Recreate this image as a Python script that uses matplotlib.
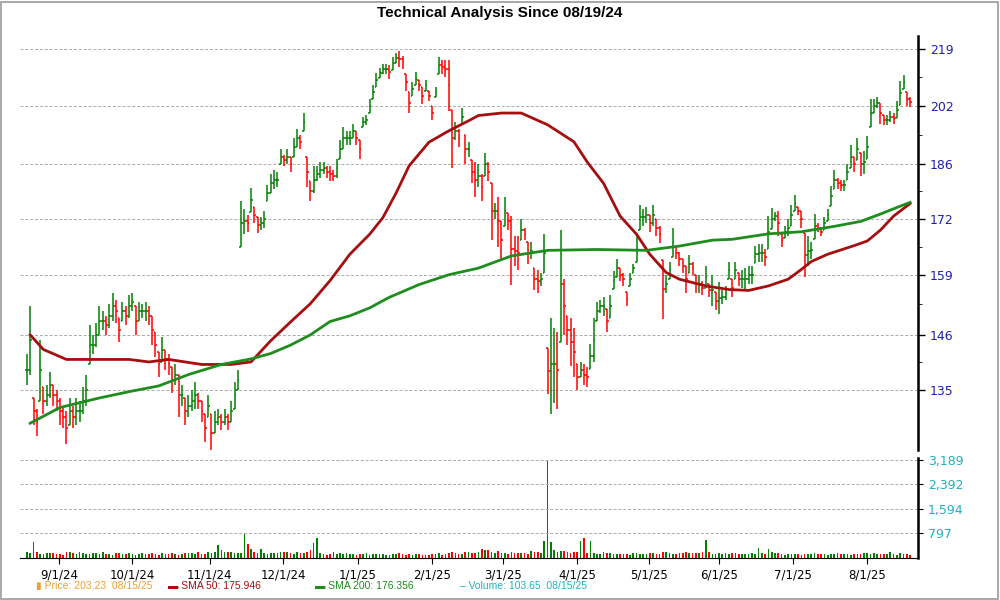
import numpy as np
import matplotlib
matplotlib.use("Agg")
import matplotlib.pyplot as plt
from matplotlib.patches import Rectangle

# daily closes 08/19/24 .. 08/15/25
closes = [
    139, 145, 131, 129, 139, 133, 134, 136, 134, 133,
    131, 130, 128, 131, 130, 131, 131, 133, 135, 144,
    144, 146, 149, 149, 148, 150, 152, 151, 147, 151,
    150, 152, 153, 149, 151, 151, 151, 150, 147, 144,
    140, 143, 141, 140, 137, 138, 134, 134, 131, 132,
    133, 134, 133, 131, 128, 132, 127, 129, 130, 129,
    130, 129, 131, 134, 137, 171, 171.5, 171, 176.8, 173,
    170.6, 171, 172, 178.6, 181, 182, 182, 188, 187, 188,
    186, 190.5, 193, 192, 197.6, 184, 179, 182, 183.5, 184.5,
    185, 184, 183.5, 183, 185, 190, 193, 193, 193, 195,
    193, 190, 197.5, 198, 202, 206, 209.6, 211.6, 213, 213,
    212, 214.7, 216.2, 216, 215, 209, 203, 207, 210, 208,
    205, 208, 205, 200, 206, 214, 213.5, 213, 208, 193,
    195, 193, 199, 190, 190, 184, 182, 183, 180, 186,
    184, 174, 174, 171.5, 167, 174, 171.5, 164.8, 164.5, 164,
    169.5, 168.5, 164, 164.5, 158, 157.5, 158, 164, 138.8, 140,
    140, 139, 157, 152, 147, 144.6, 142.5, 137.5, 139, 138,
    137.5, 141.6, 145, 151, 152, 152, 149, 152, 157.9, 160.5,
    159, 158, 153.7, 158, 160.5, 165, 172.5, 172.5, 173, 171,
    173, 170, 168.4, 155.8, 157, 160, 166.5, 164, 162.6, 161,
    158, 161.5, 160.5, 157, 157, 156, 158.6, 155.5, 155.5, 153.2,
    153.8, 154, 155, 160, 156, 160, 158, 158, 158, 159,
    159, 163.7, 164, 164, 163, 168.9, 172.2, 172.7, 171, 167,
    169, 170, 173, 176, 174, 172, 163.6, 164.5, 164.6, 170.3,
    170, 169, 171, 173, 177.9, 182, 181, 180.5, 180.5, 184,
    188, 186, 190, 186, 186.5, 190.5, 200, 202, 203, 200,
    198, 198, 199, 198.5, 201, 205.8, 209, 204, 203.23,
]

# daily high-low range in dollars
spreads = [
    6, 14, 5, 5, 12, 5, 4, 5, 4, 4,
    5, 4, 6, 5, 4, 5, 4, 5, 6, 8,
    4, 5, 6, 4, 4, 5, 6, 5, 5, 4,
    4, 5, 4, 6, 4, 3, 4, 4, 6, 5,
    5, 5, 4, 4, 5, 4, 8, 4, 5, 4,
    4, 5, 3, 4, 5, 4, 7, 4, 3, 3,
    3, 3, 4, 5, 4, 11, 6, 4, 6, 4,
    4, 3, 4, 4, 5, 5, 4, 4, 3, 4,
    4, 5, 5, 4, 5, 8, 5, 7, 4, 4,
    3, 3, 4, 3, 5, 5, 6, 4, 4, 4,
    4, 5, 3, 3, 4, 4, 4, 3, 3, 3,
    4, 4, 3, 5, 4, 5, 6, 4, 4, 3,
    5, 3, 3, 4, 3, 5, 4, 5, 15, 16,
    5, 5, 5, 8, 4, 6, 9, 6, 7, 6,
    5, 14, 4, 12, 9, 7, 4, 16, 7, 8,
    5, 3, 5, 4, 5, 5, 3, 9, 9, 19,
    15, 15, 25, 12, 6, 10, 10, 5, 3, 4,
    4, 5, 9, 4, 3, 4, 5, 5, 4, 4,
    3, 3, 3, 3, 2, 6, 6, 4, 4, 4,
    5, 4, 4, 13, 4, 4, 7, 3, 3, 3,
    6, 4, 3, 4, 4, 3, 5, 3, 7, 4,
    7, 3, 3, 4, 4, 4, 3, 4, 5, 4,
    4, 4, 4, 4, 4, 8, 5, 2, 6, 3,
    3, 4, 5, 4, 2, 4, 10, 7, 4, 6,
    2, 2, 3, 3, 5, 5, 3, 3, 3, 4,
    6, 4, 6, 6, 6, 6, 8, 4, 3, 6,
    3, 3, 3, 3, 5, 7, 4, 4, 3,
]

volumes = [
    200, 150, 520, 180, 140, 130, 170, 160, 150, 120,
    130, 110, 210, 190, 150, 120, 200, 170, 140, 130,
    160, 150, 120, 180, 130, 140, 110, 170, 160, 130,
    120, 150, 140, 110, 130, 160, 140, 120, 150, 130,
    110, 160, 140, 130, 150, 120, 110, 140, 170, 160,
    150, 130, 180, 140, 120, 200, 150, 190, 420, 250,
    180, 200, 210, 150, 160, 170, 780, 450, 280, 200,
    150, 300, 160, 130, 150, 170, 160, 200, 180, 210,
    150, 140, 180, 160, 170, 200, 260, 480, 650, 150,
    130, 110, 120, 180, 130, 150, 140, 160, 120, 120,
    100, 130, 140, 150, 110, 120, 130, 120, 140, 110,
    100, 120, 130, 150, 140, 110, 130, 100, 120, 140,
    110, 100, 90, 120, 130, 150, 110, 120, 170, 200,
    150, 130, 140, 210, 190, 170, 160, 180, 300, 250,
    260, 180, 170, 220, 160, 150, 140, 180, 150, 170,
    160, 150, 130, 220, 200, 180, 150, 560, 3189, 520,
    250, 200, 230, 220, 190, 170, 180, 210, 560, 650,
    160, 550, 170, 140, 130, 180, 150, 160, 140, 130,
    120, 140, 130, 110, 150, 160, 130, 140, 120, 150,
    160, 140, 130, 200, 180, 150, 130, 140, 170, 160,
    180, 170, 160, 150, 170, 200, 600, 190, 140, 130,
    150, 140, 160, 130, 170, 150, 140, 120, 130, 140,
    160, 130, 310, 150, 140, 290, 180, 160, 150, 130,
    110, 120, 130, 140, 120, 110, 130, 120, 140, 150,
    130, 120, 140, 110, 130, 120, 150, 140, 130, 120,
    110, 130, 140, 120, 160, 150, 130, 170, 140, 120,
    130, 120, 180, 140, 110, 150, 130, 120, 104,
]

# moving averages sampled along the trading-day index
sma50_day = [1, 5, 12, 22, 31, 37, 43, 53, 62, 68, 74, 80, 86, 92, 98, 104, 108, 112, 116,
             122, 128, 134, 137, 144, 150, 158, 166, 170, 175, 180, 185, 189, 194, 198,
             206, 213, 219, 225, 231, 235, 238, 243, 251, 255, 259, 263, 268]
sma50_val = [146, 143, 141, 141, 141, 140.5, 141, 140, 140, 140.5, 144.8, 148.7, 152.6, 157.7,
             163.7, 168.4, 172.4, 178.5, 185.6, 191.9, 195, 197.8, 199.3, 200, 200, 196.7,
             192, 186.6, 181, 172.8, 168.4, 163.7, 159.5, 158, 156.5, 155.7, 155.5, 156.5,
             158, 160.2, 162, 163.7, 165.7, 166.8, 169.4, 172.8, 175.9]
sma200_day = [1, 10, 16, 22, 31, 40, 49, 59, 68, 74, 80, 86, 92, 98, 104, 110, 119, 128, 137,
              147, 158, 173, 188, 198, 208, 214, 225, 235, 245, 253, 259, 263, 268]
sma200_val = [128.8, 131.7, 132.6, 133.5, 134.7, 135.8, 138, 140, 141.1, 142.2, 143.9, 146,
              148.8, 150, 151.7, 154, 156.8, 159, 160.5, 163.3, 164.6, 164.8, 164.6, 165.6,
              167, 167.2, 168.5, 169, 170.3, 171.5, 173.3, 174.6, 176.2]

month_labels = ["9/1/24", "10/1/24", "11/1/24", "12/1/24", "1/1/25", "2/1/25", "3/1/25",
                "4/1/25", "5/1/25", "6/1/25", "7/1/25", "8/1/25"]
month_pos = [9.7, 31.9, 55.5, 77.7, 100.5, 122.9, 144.5, 166.9, 188.8, 210, 232.5, 254.9]
price_ticks = [135, 146, 159, 172, 186, 202, 219]
vol_ticks = [797, 1594, 2392, 3189]

c = np.array(closes, dtype=float)
n = len(c)
sp = np.array(spreads[:n], dtype=float)
vol = np.array(volumes[:n], dtype=float)
x = np.arange(n)
prev = np.concatenate([[c[0]], c[:-1]])
hi = c + sp * 0.5
lo = c - sp * 0.5
op = np.clip(prev, lo, hi)
up = c >= prev
cols = np.where(up, "#008000", "#ff0000")

fams = ["Liberation Sans", "DejaVu Sans"]

fig = plt.figure(figsize=(10, 6), dpi=100)
fig.patches.append(Rectangle((0.001, 0.002), 0.997, 0.995, transform=fig.transFigure,
                             fill=False, edgecolor="#999999", lw=1.2))
fig.text(0.5, 0.978, "Technical Analysis Since 08/19/24", ha="center", va="center",
         fontsize=11, fontweight="bold", family=fams)

ax = fig.add_axes([0.02, 0.25, 0.898, 0.69])
ax.set_yscale("log")
ax.set_ylim(124.0, 223.1)
ax.set_xlim(-2.1, 270.4)
ax.vlines(x, lo, hi, colors=cols, lw=1.1)
ax.hlines(op, x - 0.5, x, colors=cols, lw=1.1)
ax.hlines(c, x, x + 0.5, colors=cols, lw=1.1)
ax.plot(sma50_day, sma50_val, color="#a50f0f", lw=2)
ax.plot(sma200_day, sma200_val, color="#1e8c1e", lw=2)
ax.yaxis.tick_right()
ax.set_yticks(price_ticks)
ax.set_yticklabels([str(t) for t in price_ticks], color="#2020b0", fontsize=9)
ax.minorticks_off()
ax.set_yticks([140.5, 152.5, 165.5, 179, 194, 210.5], minor=True)
ax.tick_params(axis="y", which="minor", length=3, labelleft=False, labelright=False)
ax.tick_params(axis="y", which="major", length=5, width=1)
ax.set_xticks([])
ax.grid(axis="y", which="major", color="#aaaaaa", ls=(0, (3, 2)), lw=0.7)
for s in ["left", "top", "bottom"]:
    ax.spines[s].set_visible(False)
ax.spines["right"].set_linewidth(1.8)

vx = fig.add_axes([0.02, 0.07, 0.898, 0.167])
vx.bar(x, vol, width=0.5, color=cols)
vx.set_xlim(-2.1, 270.4)
vx.set_ylim(0, 3250)
vx.yaxis.tick_right()
vx.set_yticks(vol_ticks)
vx.set_yticklabels([f"{t:,}" for t in vol_ticks], color="#20b0c0", fontsize=9)
vx.grid(axis="y", color="#aaaaaa", ls=(0, (3, 2)), lw=0.7)
vx.set_xticks(month_pos)
vx.set_xticklabels(month_labels, fontsize=8.5)
vx.tick_params(axis="x", length=4)
for s in ["left", "top"]:
    vx.spines[s].set_visible(False)
vx.spines["right"].set_linewidth(1.8)

ly = 0.023
lf = dict(fontsize=7.5, va="center", family=fams)
fig.text(0.036, ly, "▮ Price: 203.23  08/15/25", color="#f0a030", **lf)
fig.text(0.168, ly, "▬ SMA 50: 175.946", color="#a50f0f", **lf)
fig.text(0.315, ly, "▬ SMA 200: 176.356", color="#1e8c1e", **lf)
fig.text(0.46, ly, "‒ Volume: 103.65  08/15/25", color="#20b0c0", **lf)

fig.savefig("out.png", dpi=100)
